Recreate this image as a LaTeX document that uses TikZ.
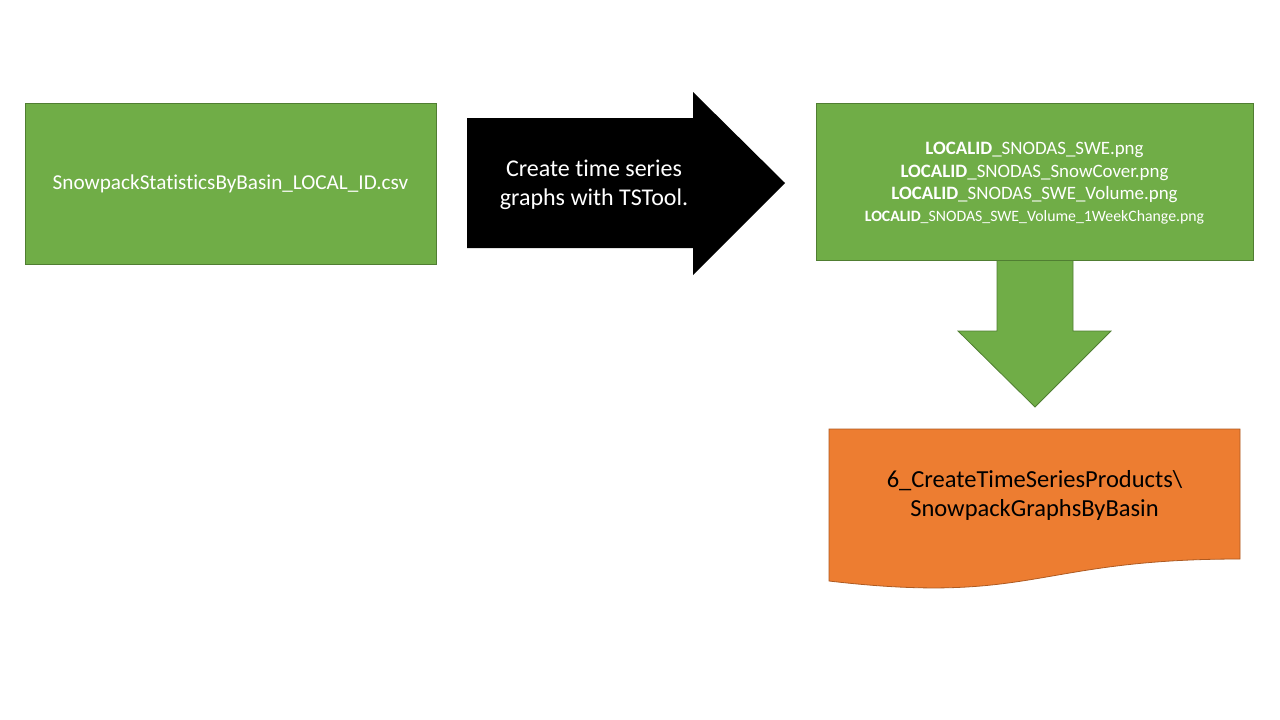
\documentclass[tikz,border=0pt]{standalone}
\usepackage{fontspec}
\setmainfont[Ligatures={NoCommon}]{Carlito}
\definecolor{gfill}{HTML}{70AD47}
\definecolor{gline}{HTML}{507E32}
\definecolor{ofill}{HTML}{ED7D31}
\definecolor{oline}{HTML}{AE5A21}
\tikzset{
  greenbox/.style={draw=gline, fill=gfill, line width=0.8pt, rectangle, inner sep=0pt, text=white, align=center},
  greenshape/.style={draw=gline, fill=gfill, line width=0.8pt},
  blackshape/.style={fill=black},
  orangeshape/.style={draw=oline, fill=ofill, line width=0.8pt},
  lbl/.style={align=center, inner sep=0pt},
}
\begin{document}
\begin{tikzpicture}[x=1pt, y=-1pt]
\useasboundingbox (0,0) rectangle (1280,720);
\fill[white] (0,0) rectangle (1280,720);
% left box
\node[greenbox, minimum width=411pt, minimum height=161pt, font=\fontsize{21.2}{25}\selectfont] (src) at (230.5,183.5) {SnowpackStatisticsByBasin\_LOCAL\_ID.csv};
% black arrow
\path[blackshape] (467,118) -- (693,118) -- (693,92) -- (785,183) -- (693,275) -- (693,248) -- (467,248) -- cycle;
\node[lbl, text=white, font=\fontsize{24}{29}\selectfont] (proc) at (594,185) {Create time series\\graphs with TSTool.};
% down arrow
\path[greenshape] (997,258) -- (1073,258) -- (1073,331) -- (1111,331) -- (1035,407) -- (958,331) -- (997,331) -- cycle;
% right box
\node[greenbox, minimum width=437pt, minimum height=157pt] (out) at (1034.5,181.5) {};
\node[lbl, text=white, font=\fontsize{18.9}{22.3}\selectfont] (outtxt) at (1034.5,183.5) {\textbf{LOCALID}\_SNODAS\_SWE.png\\\textbf{LOCALID}\_SNODAS\_SnowCover.png\\\textbf{LOCALID}\_SNODAS\_SWE\_Volume.png\\{\fontsize{15.8}{22.3}\selectfont\textbf{LOCALID}\_SNODAS\_SWE\_Volume\_1WeekChange.png}};
% orange document
\path[orangeshape] (829,429) -- (1240,429) -- (1240,559) .. controls (1034.5,559) and (1034.5,605) .. (829,581) -- cycle;
\node[lbl, text=black, font=\fontsize{24.5}{29}\selectfont] (dest) at (1034.5,495.5) {6\_CreateTimeSeriesProducts\textbackslash\\SnowpackGraphsByBasin};
\end{tikzpicture}
\end{document}
